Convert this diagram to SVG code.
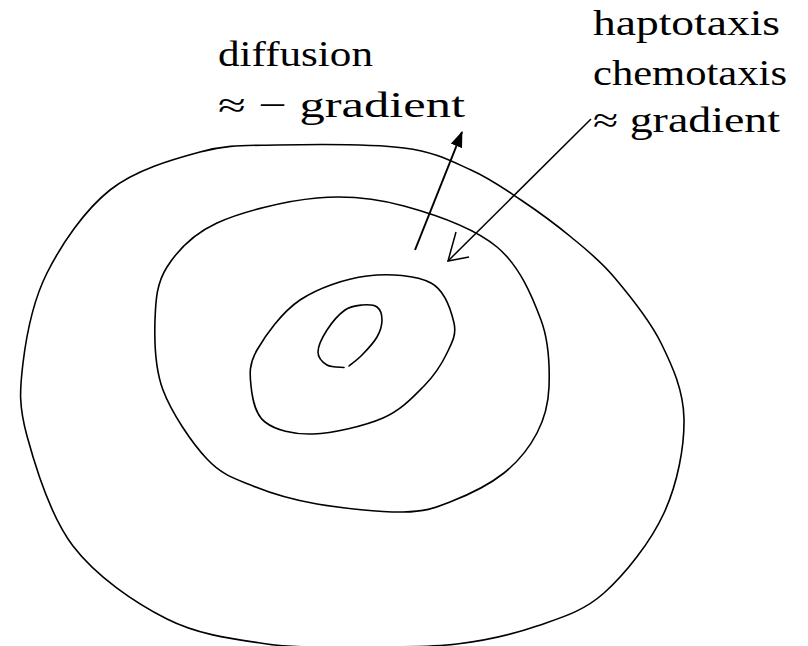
<svg xmlns="http://www.w3.org/2000/svg" width="808" height="646" viewBox="0 0 808 646">
<style>
.c{fill:none;stroke:#000;stroke-width:1.6;stroke-linecap:round;stroke-linejoin:round}
.t{font-family:"Liberation Serif",serif;font-size:35px;fill:#000}
</style>
<defs>
<marker id="filled" viewBox="0 0 16 12" refX="15" refY="6" markerWidth="16" markerHeight="12" markerUnits="userSpaceOnUse" orient="auto">
<path d="M0,0 L16,6 L0,12 Z" fill="#000"/>
</marker>
</defs>
<rect width="808" height="646" fill="#fff"/>
<g id="outer">
<path class="c" d="M277,145 C311,144.3 371.7,143.8 404,148 C436.3,152.2 451.5,161.3 471,170 C490.5,178.7 504.3,188.8 521,200 C537.7,211.2 555.5,224.2 571,237 C586.5,249.8 599,259.3 614,277 C629,294.7 649.3,319.3 661,343 C672.7,366.7 683.5,390.7 684,419 C684.5,447.3 677.3,484 664,513 C650.7,542 625.2,574.2 604,593 C582.8,611.8 561.5,617.5 537,626 C512.5,634.5 486.5,640.5 457,644 C427.5,647.5 391.7,647 360,647 C328.3,647 299.2,648.7 267,644 C234.8,639.3 199.3,635.3 167,619 C134.7,602.7 96.3,576.5 73,546 C49.7,515.5 35.3,466.5 27,436 C18.7,405.5 19.7,390.2 23,363 C26.3,335.8 32.5,301.8 47,273 C61.5,244.2 84.5,210.2 110,190 C135.5,169.8 172.2,159.5 200,152 C227.8,144.5 243,145.7 277,145 Z"/>
</g>
<g id="middle">
<path class="c" d="M317,198 C348.2,195.2 374,197.8 404,206 C434,214.2 474.2,228 497,247 C519.8,266 532.3,296.7 541,320 C549.7,343.3 549.7,368.2 549,387 C548.3,405.8 544.5,418.7 537,433 C529.5,447.3 518.5,461.5 504,473 C489.5,484.5 466.8,495.5 450,502 C433.2,508.5 425.2,511.7 403,512 C380.8,512.3 342,508.3 317,504 C292,499.7 271.3,493.5 253,486 C234.7,478.5 222,475 207,459 C192,443 171.7,413.2 163,390 C154.3,366.8 154.3,340.5 155,320 C155.7,299.5 156.7,283.2 167,267 C177.3,250.8 192,234.5 217,223 C242,211.5 285.8,200.8 317,198 Z"/>
</g>
<g id="inner">
<path class="c" d="M367,276 C388.8,273.2 416.5,275.2 431,283 C445.5,290.8 451.3,311.3 454,323 C456.7,334.7 452,342.5 447,353 C442,363.5 434.7,375.2 424,386 C413.3,396.8 401.5,410 383,418 C364.5,426 332.7,433.3 313,434 C293.3,434.7 275.3,430 265,422 C254.7,414 252.3,398 251,386 C249.7,374 248.8,364.3 257,350 C265.2,335.7 281.7,312.3 300,300 C318.3,287.7 345.2,278.8 367,276 Z"/>
</g>
<g id="core">
<path class="c" d="M344,367.5 C341.2,367.1 331.3,367.6 327,365 C322.7,362.4 318,357.8 318,352 C318,346.2 322.5,337 327,330 C331.5,323 339.2,314.2 345,310 C350.8,305.8 356.7,305.5 362,305 C367.3,304.5 373.7,304.5 377,307 C380.3,309.5 382,315 382,320 C382,325 380.3,331.2 377,337 C373.7,342.8 366.7,350.2 362,355 C357.3,359.8 351.2,364.2 349,366"/>
</g>
<g id="connectors">
<line x1="415" y1="250" x2="462" y2="132" stroke="#000" stroke-width="2" marker-end="url(#filled)"/>
<line x1="591" y1="119" x2="448" y2="261" stroke="#000" stroke-width="1.5"/>
<polyline points="456,232 448,261 469,257" fill="none" stroke="#000" stroke-width="1.5" stroke-linejoin="miter"/>
</g>
<g id="label-diffusion">
<text class="t" x="218" y="66" textLength="155" lengthAdjust="spacingAndGlyphs">diffusion</text>
<text class="t" x="218" y="117" textLength="247" lengthAdjust="spacingAndGlyphs">≈ − gradient</text>
</g>
<g id="label-taxis">
<text class="t" x="593" y="35" textLength="187" lengthAdjust="spacingAndGlyphs">haptotaxis</text>
<text class="t" x="593" y="85" textLength="194" lengthAdjust="spacingAndGlyphs">chemotaxis</text>
<text class="t" x="593" y="132" textLength="187" lengthAdjust="spacingAndGlyphs">≈ gradient</text>
</g>
</svg>
